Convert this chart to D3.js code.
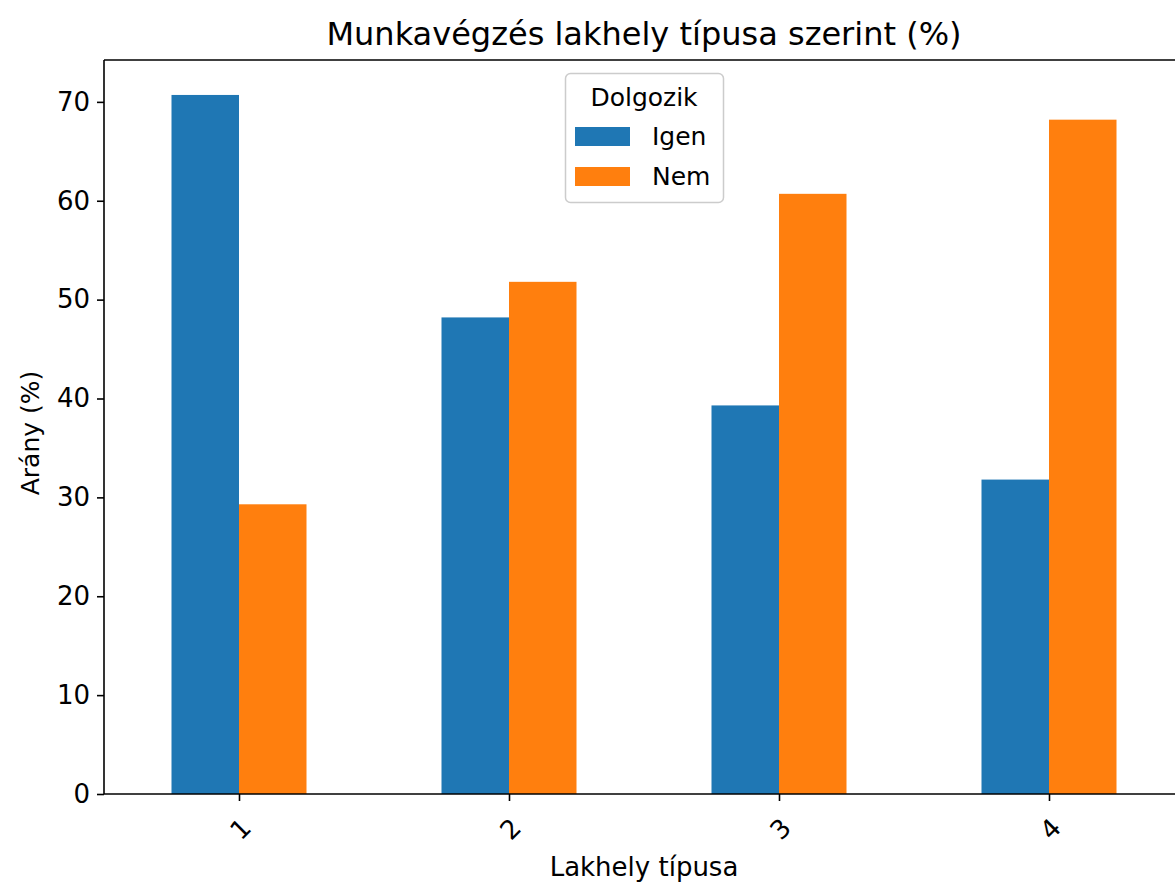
<!DOCTYPE html>
<html><head><meta charset="utf-8">
<script src="https://cdn.jsdelivr.net/npm/d3@7"></script>
<style>body{margin:0;background:#fff}svg{display:block}text{font-family:"DejaVu Sans",sans-serif;fill:#000}</style>
</head><body>
<svg id="c" width="1175" height="882"></svg>
<script>
const categories = ["1", "2", "3", "4"];
const seriesNames = ["Igen", "Nem"];
const igenValues = [70.7, 48.2, 39.3, 31.8];
const nemValues = [29.3, 51.8, 60.7, 68.2];
const yTicks = [0, 10, 20, 30, 40, 50, 60, 70];
const colors = ["#1f77b4", "#ff7f0e"];

const svg = d3.select("#c");
const L = 104, R = 1184, T = 60, B = 794;
const x = d3.scaleLinear().domain([-0.5, categories.length - 0.5]).range([L, R]);
const yMax = d3.max(igenValues.concat(nemValues)) * 1.05;
const y = d3.scaleLinear().domain([0, yMax]).range([B, T]);
const bw = 0.25;
const series = [igenValues, nemValues];

series.forEach((vals, si) => {
  svg.append("g").selectAll("rect").data(vals).join("rect")
    .attr("x", (d, i) => x(i - bw + si * bw))
    .attr("width", (d, i) => x(i + bw * si) - x(i - bw + si * bw))
    .attr("y", d => y(d))
    .attr("height", d => y(0) - y(d))
    .attr("fill", colors[si]);
});

// y axis
const yAxis = d3.axisLeft(y).tickValues(yTicks).tickSize(7).tickPadding(7).tickFormat(d3.format("d"));
const gy = svg.append("g").attr("transform", `translate(${L},0)`).call(yAxis);
gy.select(".domain").remove();
gy.selectAll("line").attr("stroke", "#000").attr("stroke-width", 1.6);
gy.selectAll("text").style("font-size", "26px").attr("font-family", "DejaVu Sans");

// x axis
const xAxis = d3.axisBottom(x).tickValues(d3.range(categories.length)).tickSize(7).tickFormat(i => categories[i]);
const gx = svg.append("g").attr("transform", `translate(0,${B})`).call(xAxis);
gx.select(".domain").remove();
gx.selectAll("line").attr("stroke", "#000").attr("stroke-width", 1.6);
gx.selectAll("text").style("font-size", "26px")
  .attr("y", 0).attr("dy", "0.35em").attr("text-anchor", "middle")
  .attr("transform", "translate(1,35) rotate(-45)");

// spines
svg.append("line").attr("x1", L).attr("x2", L).attr("y1", T).attr("y2", B).attr("stroke", "#000").attr("stroke-width", 1.6);
svg.append("line").attr("x1", L).attr("x2", R).attr("y1", B).attr("y2", B).attr("stroke", "#000").attr("stroke-width", 1.6);
svg.append("line").attr("x1", L).attr("x2", R).attr("y1", T).attr("y2", T).attr("stroke", "#000").attr("stroke-width", 1.6);
svg.append("line").attr("x1", R).attr("x2", R).attr("y1", T).attr("y2", B).attr("stroke", "#000").attr("stroke-width", 1.6);

// title & labels
svg.append("text").attr("x", (L + R) / 2).attr("y", 45).attr("text-anchor", "middle").style("font-size", "32px").text("Munkavégzés lakhely típusa szerint (%)");
svg.append("text").attr("x", (L + R) / 2).attr("y", 876).attr("text-anchor", "middle").style("font-size", "26px").text("Lakhely típusa");
svg.append("text").attr("transform", `translate(39,${(T + B) / 2 + 6}) rotate(-90)`).attr("text-anchor", "middle").style("font-size", "25px").text("Arány (%)");

// legend
const lg = svg.append("g");
lg.append("rect").attr("x", 565.5).attr("y", 73.5).attr("width", 158).attr("height", 129).attr("rx", 5)
  .attr("fill", "#fff").attr("fill-opacity", 0.8).attr("stroke", "#ccc").attr("stroke-width", 1.5);
lg.append("text").attr("x", 644).attr("y", 106).attr("text-anchor", "middle").style("font-size", "25px").text("Dolgozik");
seriesNames.forEach((n, i) => {
  lg.append("rect").attr("x", 575).attr("y", 127 + i * 40).attr("width", 55).attr("height", 19).attr("fill", colors[i]);
  lg.append("text").attr("x", 652).attr("y", 145 + i * 40).style("font-size", "25px").text(n);
});
</script>
</body></html>
